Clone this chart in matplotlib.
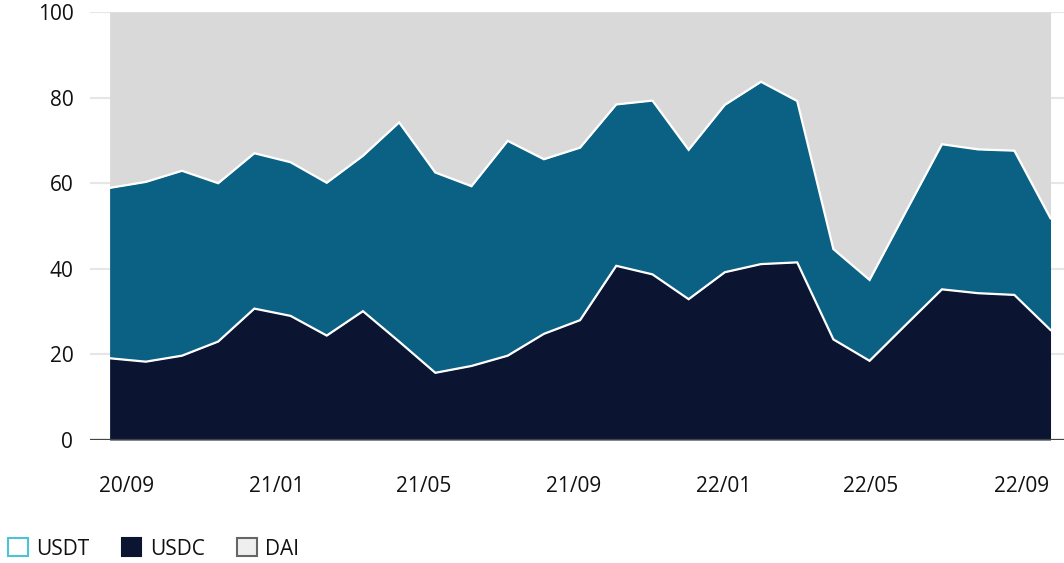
import matplotlib
matplotlib.use("Agg")
import matplotlib.pyplot as plt
import matplotlib.dates as mdates
from matplotlib.patches import Patch
import numpy as np
import pandas as pd

plt.rcParams['font.family'] = ['Open Sans', 'DejaVu Sans']

# ---- data (percent share) ----
usdc = [19.1, 18.3, 19.7, 23.0, 30.7, 29.0, 24.4, 30.1, 23.0, 15.7, 17.3, 19.7, 24.8, 28.0,
        40.7, 38.7, 32.9, 39.2, 41.1, 41.5, 23.5, 18.5, 26.9, 35.2, 34.3, 33.9, 25.7]
usdt = [39.8, 42.0, 43.2, 37.0, 36.3, 35.9, 35.7, 36.3, 51.2, 46.8, 42.0, 50.2, 40.8, 40.3,
        37.7, 40.6, 34.9, 39.1, 42.6, 37.7, 21.1, 18.9, 26.4, 33.9, 33.6, 33.7, 26.1]
dai = [41.1, 39.7, 37.1, 40.0, 33.0, 35.1, 39.9, 33.6, 25.8, 37.5, 40.7, 30.1, 34.4, 31.7,
       21.6, 20.7, 32.2, 21.7, 16.3, 20.8, 55.4, 62.6, 46.7, 30.9, 32.1, 32.4, 48.2]
dates = pd.date_range("2020-08-18", "2022-09-25", periods=len(usdc))
tick_dates = pd.to_datetime(["2020-09-01", "2021-01-01", "2021-05-01", "2021-09-01",
                             "2022-01-01", "2022-05-01", "2022-09-01"])
tick_labels = ["20/09", "21/01", "21/05", "21/09", "22/01", "22/05", "22/09"]
y_ticks = [0, 20, 40, 60, 80, 100]
series_names = ["USDT", "USDC", "DAI"]

C_USDC = "#0b1532"
C_USDT = "#0b6184"
C_DAI = "#d9d9d9"
FS = 15

fig = plt.figure(figsize=(10.64, 5.63), dpi=100)
ax = fig.add_axes([90 / 1064, 123 / 563, (1064 - 90) / 1064, 428 / 563])

x = mdates.date2num(dates)
a = np.array(usdc)
b = a + np.array(usdt)
c = b + np.array(dai)

ax.fill_between(x, 0, a, color=C_USDC, lw=0, zorder=2)
ax.fill_between(x, a, b, color=C_USDT, lw=0, zorder=2)
ax.fill_between(x, b, c, color=C_DAI, lw=0, zorder=2)
ax.plot(x, a, color="white", lw=1.6, zorder=3, solid_joinstyle="miter")
ax.plot(x, b, color="white", lw=1.6, zorder=3, solid_joinstyle="miter")

ax.set_xlim(x[0] - 16, x[-1] + 11)
ax.set_ylim(0, 100)
ax.set_yticks(y_ticks)
ax.set_xticks(mdates.date2num(tick_dates))
ax.set_xticklabels(tick_labels)

for s in ax.spines.values():
    s.set_visible(False)
ax.grid(axis="y", color="#e6e6e6", lw=1.5, zorder=0)
ax.axhline(0, color="#444444", lw=1.6, zorder=4)
ax.tick_params(axis="both", length=0, labelsize=FS, labelcolor="#111111")
ax.tick_params(axis="x", pad=26)
ax.tick_params(axis="y", pad=12)

handles = [Patch(facecolor="white", edgecolor="#4fc3d6", lw=1.5),
           Patch(facecolor=C_USDC, edgecolor=C_USDC, lw=1.5),
           Patch(facecolor="#efefef", edgecolor="#666666", lw=1.5)]
fig.legend(handles, series_names, loc="center left", bbox_to_anchor=(8 / 1064, 14 / 563),
           ncol=3, frameon=False, fontsize=FS, handlelength=0.95, handleheight=0.95,
           handletextpad=0.4, columnspacing=1.55, borderpad=0, borderaxespad=0,
           labelcolor="#111111")

fig.savefig("out.png", dpi=100)
